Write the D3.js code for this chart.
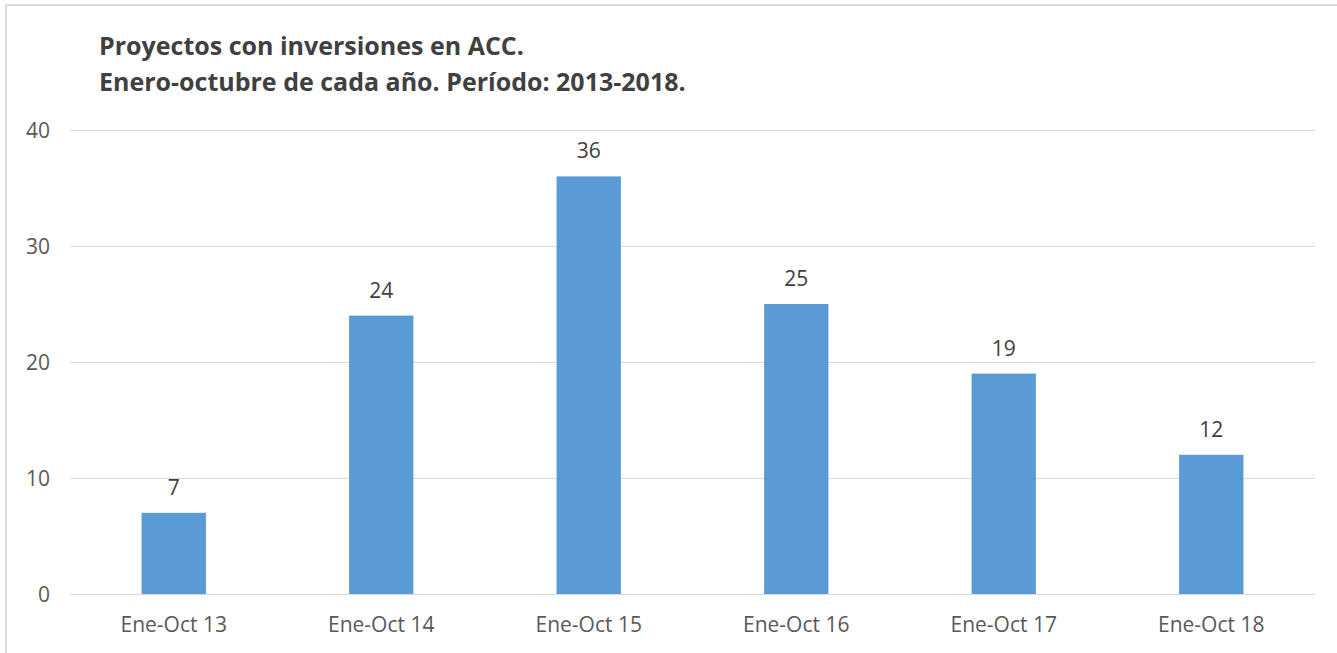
<!DOCTYPE html>
<html>
<head>
<meta charset="utf-8">
<script src="https://cdn.jsdelivr.net/npm/d3@7"></script>
<style>
  body { margin: 0; background: #fff; }
  svg { display: block; font-family: "Open Sans", sans-serif; }
</style>
</head>
<body>
<svg id="chart" width="1337" height="653"></svg>
<script>
const categories = ['Ene-Oct 13', 'Ene-Oct 14', 'Ene-Oct 15', 'Ene-Oct 16', 'Ene-Oct 17', 'Ene-Oct 18'];
const values = [7, 24, 36, 25, 19, 12];
const yTicks = [0, 10, 20, 30, 40];
const titleLines = ['Proyectos con inversiones en ACC.', 'Enero-octubre de cada año. Período: 2013-2018.'];

const svg = d3.select('#chart');
const margin = { top: 130, right: 22, bottom: 59, left: 70 };
const width = 1337, height = 653;

// frame lines (top and left edge of the chart box)
svg.append('line').attr('x1', 5).attr('x2', width).attr('y1', 5).attr('y2', 5)
    .attr('stroke', '#d9d9d9').attr('stroke-width', 2);
svg.append('line').attr('x1', 6).attr('x2', 6).attr('y1', 5).attr('y2', height)
    .attr('stroke', '#d9d9d9').attr('stroke-width', 2);

const x = d3.scaleBand()
    .domain(categories)
    .range([margin.left, width - margin.right])
    .paddingInner(0.69)
    .paddingOuter(0.345);

const y = d3.scaleLinear()
    .domain([0, 40])
    .range([height - margin.bottom, margin.top]);

// gridlines
svg.append('g')
    .attr('transform', `translate(${margin.left},0)`)
    .call(d3.axisLeft(y).tickValues(yTicks).tickSize(-(width - margin.left - margin.right)).tickFormat(''))
    .call(g => g.select('.domain').remove())
    .call(g => g.selectAll('line').attr('stroke', '#d9d9d9').attr('stroke-width', 1.2));

// y tick labels
svg.append('g')
    .selectAll('text')
    .data(yTicks)
    .join('text')
    .attr('x', 50)
    .attr('y', d => y(d))
    .attr('dy', '0.36em')
    .attr('text-anchor', 'end')
    .attr('fill', '#595959')
    .style('font-size', '21px')
    .text(d => d);

// bars
svg.append('g')
    .selectAll('rect')
    .data(values)
    .join('rect')
    .attr('x', (d, i) => x(categories[i]))
    .attr('y', d => y(d))
    .attr('width', x.bandwidth())
    .attr('height', d => y(0) - y(d))
    .attr('fill', '#5b9bd5');

// data labels
svg.append('g')
    .selectAll('text')
    .data(values)
    .join('text')
    .attr('x', (d, i) => x(categories[i]) + x.bandwidth() / 2)
    .attr('y', d => y(d) - 18)
    .attr('text-anchor', 'middle')
    .attr('fill', '#404040')
    .style('font-size', '21px')
    .text(d => d);

// x labels
svg.append('g')
    .selectAll('text')
    .data(categories)
    .join('text')
    .attr('x', d => x(d) + x.bandwidth() / 2)
    .attr('y', 632)
    .attr('text-anchor', 'middle')
    .attr('fill', '#595959')
    .style('font-size', '21px')
    .text(d => d);

// title
svg.append('g')
    .selectAll('text')
    .data(titleLines)
    .join('text')
    .attr('x', 99)
    .attr('y', (d, i) => 55 + i * 36)
    .attr('fill', '#404040')
    .style('font-size', '25px')
    .style('font-weight', 'bold')
    .text(d => d);
</script>
</body>
</html>
